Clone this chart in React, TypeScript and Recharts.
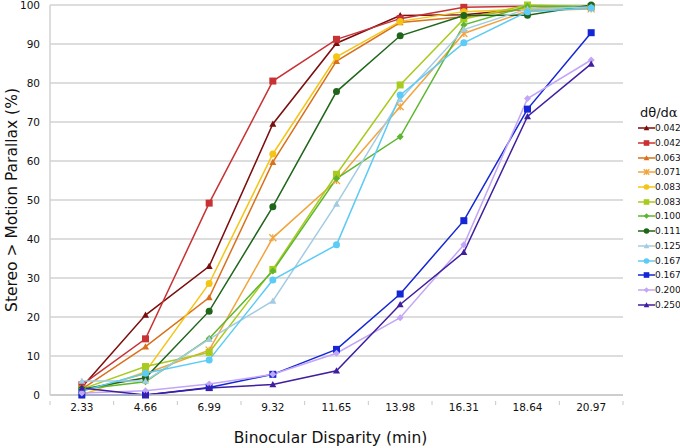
import React from 'react';
import { LineChart, Line, XAxis, YAxis, CartesianGrid, Legend } from 'recharts';

// binocular disparity (min) categories
const disparities = ['2.33', '4.66', '6.99', '9.32', '11.65', '13.98', '16.31', '18.64', '20.97'];
const yTicks = [0, 10, 20, 30, 40, 50, 60, 70, 80, 90, 100];

// % of trials where stereo beat motion parallax, one list per dθ/dα ratio
const r042a = [2, 20.5, 33, 69.5, 90.2, 97.3, 97.5, 99, 99.5];
const r042b = [2.6, 14.4, 49.2, 80.5, 91.2, 96.5, 99.4, 99.7, 99.5];
const r063 = [1.5, 12.4, 25, 59.7, 85.6, 95.5, 97, 99, 99.5];
const r071 = [1, 5.5, 11.5, 40.3, 55, 73.9, 92.7, 98.5, 99];
const r083a = [0, 6, 28.6, 61.8, 86.7, 95.8, 98.3, 99, 99.5];
const r083b = [1.5, 7.3, 10.9, 32.2, 56.6, 79.5, 96.4, 100, 99.6];
const r100 = [1.5, 3.4, 14.5, 31.8, 55.5, 66.2, 94.9, 99.7, 99.6];
const r111 = [1.5, 4.4, 21.5, 48.3, 77.8, 92.1, 97.3, 97.4, 100];
const r125 = [3.6, 3.6, 14.3, 24.1, 49, 75.8, 93.7, 99, 99.5];
const r167a = [1, 5.6, 9, 29.5, 38.5, 76.9, 90.3, 98.3, 99.2];
const r167b = [0, 0, 1.9, 5.3, 11.7, 25.9, 44.7, 73.3, 92.9];
const r200 = [0.5, 1.1, 2.8, 5.3, 10.7, 19.8, 38.5, 76, 85.9];
const r250 = [1.8, 0, 1.8, 2.7, 6.2, 23.2, 36.6, 71.4, 84.9];

type Shape = 'triangle' | 'square' | 'circle' | 'diamond' | 'cross';

const series: { key: string; label: string; color: string; shape: Shape; values: number[] }[] = [
  { key: 'a', label: '0.042', color: '#7b0d0d', shape: 'triangle', values: r042a },
  { key: 'b', label: '0.042', color: '#c83234', shape: 'square', values: r042b },
  { key: 'c', label: '0.063', color: '#d9701c', shape: 'triangle', values: r063 },
  { key: 'd', label: '0.071', color: '#f2a43c', shape: 'cross', values: r071 },
  { key: 'e', label: '0.083', color: '#f4c514', shape: 'circle', values: r083a },
  { key: 'f', label: '0.083', color: '#a8cb1e', shape: 'square', values: r083b },
  { key: 'g', label: '0.100', color: '#5db72e', shape: 'diamond', values: r100 },
  { key: 'h', label: '0.111', color: '#1f661b', shape: 'circle', values: r111 },
  { key: 'i', label: '0.125', color: '#a3cbe2', shape: 'triangle', values: r125 },
  { key: 'j', label: '0.167', color: '#5ccbf6', shape: 'circle', values: r167a },
  { key: 'k', label: '0.167', color: '#1426d6', shape: 'square', values: r167b },
  { key: 'l', label: '0.200', color: '#c3a6f6', shape: 'diamond', values: r200 },
  { key: 'm', label: '0.250', color: '#3f1ea0', shape: 'triangle', values: r250 },
];

const rows = disparities.map((d, i) => {
  const row: Record<string, string | number> = { x: d };
  series.forEach((s) => (row[s.key] = s.values[i]));
  return row;
});

const FONT = '"DejaVu Sans", Verdana, sans-serif';
const AXIS_GREY = '#c8c8c8';

function Marker({ cx, cy, shape, color, s = 3.5 }: { cx: number; cy: number; shape: Shape; color: string; s?: number }) {
  if (cx == null || cy == null) return null;
  switch (shape) {
    case 'triangle':
      return <polygon points={`${cx},${cy - s} ${cx + s},${cy + s * 0.8} ${cx - s},${cy + s * 0.8}`} fill={color} />;
    case 'square':
      return <rect x={cx - s} y={cy - s} width={s * 2} height={s * 2} fill={color} />;
    case 'circle':
      return <circle cx={cx} cy={cy} r={s} fill={color} />;
    case 'diamond':
      return <polygon points={`${cx},${cy - s} ${cx + s},${cy} ${cx},${cy + s} ${cx - s},${cy}`} fill={color} />;
    default:
      return (
        <g stroke={color} strokeWidth={1.3}>
          <line x1={cx - s} y1={cy - s} x2={cx + s} y2={cy + s} />
          <line x1={cx - s} y1={cy + s} x2={cx + s} y2={cy - s} />
          <line x1={cx} y1={cy - s} x2={cx} y2={cy + s} />
        </g>
      );
  }
}

// category label with small tick marks on the band edges (like the original)
const DisparityTick = (props: any) => {
  const { x, y, payload, index, visibleTicksCount } = props;
  const half = payload.offset || 0;
  const top = y - 3;
  return (
    <g>
      <line x1={x - half} y1={top} x2={x - half} y2={top + 4} stroke={AXIS_GREY} />
      {index === visibleTicksCount - 1 && <line x1={x + half} y1={top} x2={x + half} y2={top + 4} stroke={AXIS_GREY} />}
      <text x={x} y={y} dy="0.71em" textAnchor="middle" fontSize={10.5} fontFamily={FONT} fill="#111">
        {payload.value}
      </text>
    </g>
  );
};

const LegendBox = () => (
  <div style={{ fontFamily: FONT, color: '#111' }}>
    <div style={{ fontSize: 13, height: 16, lineHeight: '16px', paddingLeft: 2 }}>
      dθ/d<span style={{ fontFamily: '"DejaVu Serif", serif' }}>α</span>
    </div>
    {series.map((s) => (
      <div key={s.key} style={{ display: 'flex', alignItems: 'center', height: 14.7 }}>
        <svg width={17} height={10} style={{ display: 'block' }}>
          <line x1={0} y1={5} x2={17} y2={5} stroke={s.color} strokeWidth={1.5} />
          <Marker cx={8.5} cy={5} shape={s.shape} color={s.color} s={2.8} />
        </svg>
        <span style={{ fontSize: 9, lineHeight: '10px' }}>{s.label}</span>
      </div>
    ))}
  </div>
);

export default function App() {
  return (
    <div style={{ position: 'absolute', left: 0, top: 0, background: '#fff' }}>
      <LineChart width={680} height={448} data={rows} margin={{ top: 5, right: 57, bottom: 0, left: 0 }}>
        <CartesianGrid vertical={false} stroke="#d2d2d2" strokeWidth={1.5} />
        <XAxis
          dataKey="x"
          scale="band"
          height={53}
          interval={0}
          tickLine={false}
          tickMargin={3}
          axisLine={{ stroke: AXIS_GREY, strokeWidth: 1.5 }}
          tick={<DisparityTick />}
          label={{
            content: ({ viewBox }: any) => (
              <text x={viewBox.x + viewBox.width / 2 - 6} y={viewBox.y + 48} textAnchor="middle" fontSize={15.5} fontFamily={FONT} fill="#111">
                Binocular Disparity (min)
              </text>
            ),
          }}
        />
        <YAxis
          width={50}
          domain={[0, 100]}
          ticks={yTicks}
          interval={0}
          tickLine={false}
          tickMargin={4}
          axisLine={{ stroke: '#d2d2d2', strokeWidth: 1.5 }}
          tick={{ fill: '#111', fontSize: 10.5, fontFamily: FONT }}
          label={{
            content: ({ viewBox }: any) => {
              const cx = viewBox.x + 17;
              const cy = viewBox.y + viewBox.height / 2;
              return (
                <text x={cx} y={cy} transform={`rotate(-90 ${cx} ${cy})`} textAnchor="middle" fontSize={15.5} fontFamily={FONT} fill="#111">
                  Stereo &gt; Motion Parallax (%)
                </text>
              );
            },
          }}
        />
        <Legend
          layout="vertical"
          align="center"
          verticalAlign="middle"
          content={LegendBox}
          wrapperStyle={{ left: 638, top: 105, width: 44 }}
        />
        {series.map((s) => (
          <Line
            key={s.key}
            dataKey={s.key}
            type="linear"
            stroke={s.color}
            strokeWidth={1.5}
            isAnimationActive={false}
            activeDot={false}
            dot={(p: any) => <Marker key={`${s.key}-${p.index}`} cx={p.cx} cy={p.cy} shape={s.shape} color={s.color} />}
          />
        ))}
      </LineChart>
    </div>
  );
}
